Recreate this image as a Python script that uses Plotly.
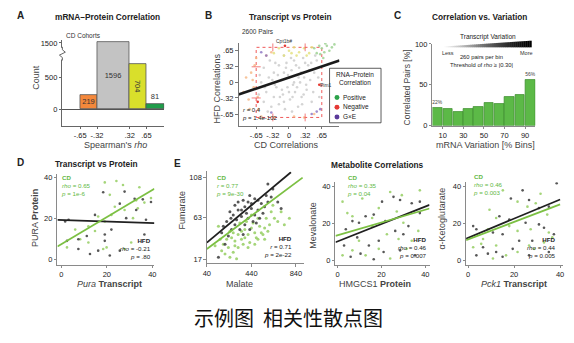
import plotly.graph_objects as go
import numpy as np

W, H = 574, 343
FONT = "Liberation Sans, Arial, Helvetica, sans-serif"
GREEN = "#7cc043"
GREEN_TXT = "#62b83f"
BLACK = "#222222"
AXC = "#8a8a8a"

# ---------------- Panel A : mRNA-Protein correlation counts ----------------
a_bin_lo = [-0.65, -0.32, 0.32, 0.65]
a_bin_hi = [-0.32, 0.32, 0.65, 1.00]
a_counts = [219, 1596, 704, 81]
a_colors = ["#f4883b", "#c3c3c3", "#d9df2b", "#1f9d4a"]
a_xticks = [-0.65, -0.32, 0.32, 0.65]
a_xticktext = ["-.65", "-.32", ".32", ".65"]
a_yticks = [0, 500, 1500]


def a_break(v):  # y-axis is broken between 500 and 1500
    return v if v < 943 else 796 + 0.156 * v


# ---------------- Panel B : CD vs HFD correlations ----------------
b_gray_x = [-0.5, -0.45, -0.4, -0.35, -0.3, -0.3, -0.25, -0.2, -0.2, -0.15, -0.12, -0.1, -0.08, -0.05, -0.03, 0, 0.02,
            0.05, 0.08, 0.1, 0.12, 0.15, 0.18, 0.2, 0.22, 0.25, 0.28, 0.3, 0.35, 0.38, 0.42, 0.45, 0.5, 0.55, -0.55,
            -0.6, -0.5, -0.42, -0.38, -0.28, -0.22, -0.18, -0.1, -0.06, 0.0, 0.04, 0.06, 0.1, 0.14, 0.16, 0.24, 0.26,
            0.32, 0.34, 0.4, 0.48, 0.52, 0.58, -0.48, -0.33, -0.27, -0.14, -0.02, 0.07, 0.19, 0.29, 0.44, -0.58, 0.6,
            -0.1]
b_gray_y = [-0.4, -0.2, 0.1, -0.5, -0.3, 0.2, -0.1, 0.35, -0.45, 0.05, -0.25, 0.2, -0.55, 0.4, -0.1, 0.1, -0.35,
            0.25, -0.05, 0.45, -0.2, 0.15, -0.5, 0.3, 0.0, -0.3, 0.5, 0.1, -0.15, 0.35, 0.05, -0.4, 0.2, 0.45, 0.0,
            -0.25, 0.3, -0.6, 0.45, -0.05, 0.15, -0.3, -0.4, 0.3, -0.2, 0.5, -0.6, 0.0, 0.35, -0.1, 0.2, -0.45,
            0.4, -0.05, 0.25, -0.2, 0.55, 0.1, -0.1, 0.05, 0.4, -0.15, 0.15, -0.3, 0.1, -0.25, 0.4, 0.15, -0.3,
            0.55]
b_neg_x = [-0.75, -0.7, -0.68, -0.62, -0.8, -0.72, -0.65, -0.85, -0.6, -0.55, -0.3, 0.1, 0.3, -0.45, -0.35, -0.9,
           -0.78, 0.5]
b_neg_y = [0.2, -0.1, 0.35, -0.3, -0.35, 0.05, 0.5, 0.1, -0.55, -0.7, -0.72, -0.7, -0.72, 0.55, 0.62, -0.2,
           -0.55, -0.65]
b_mid_x = [-0.3, -0.2, 0, 0.1, 0.2, 0.3, 0.4, -0.1, 0.15, 0.35, 0.45, 0.05]
b_mid_y = [0.6, 0.7, 0.65, 0.72, 0.62, 0.7, 0.6, 0.55, 0.55, 0.55, 0.72, 0.6]
b_pos_x = [0.55, 0.65, 0.7, 0.75, 0.8, 0.6, 0.85, 0.68, 0.72, 0.9, 0.5, 0.62]
b_pos_y = [0.6, 0.7, 0.62, 0.75, 0.65, 0.75, 0.72, 0.5, 0.8, 0.78, 0.7, 0.58]
b_gxe_x = [-0.55, -0.45, 0.45, 0.55, -0.35, 0.62]
b_gxe_y = [0.62, 0.55, -0.65, -0.6, -0.62, -0.55]
b_red_x = [-0.08, 0.6, -0.62]
b_red_y = [0.75, -0.05, -0.4]
b_fit = (0.10, 0.35)             # intercept, slope
b_thr = [0.32, 0.65]
b_ticks = [-0.65, -0.32, 0, 0.32, 0.65]
b_ticktext = ["-.65", "-.32", "0", ".32", ".65"]

# ---------------- Panel C : correlated pairs per variation bin ----------------
c_bins = [5, 15, 25, 35, 45, 55, 65, 75, 85, 95]
c_pct = [22, 21, 17, 20, 23, 28, 27, 35, 38, 56]
c_xticks = [10, 30, 50, 70, 90]
c_yticks = [0, 50, 100]

# ---------------- Panel D : Pura transcript vs PURA protein ----------------
d_cd_x = [19.1, 24.2, 27.1, 34.3, 21.3, 32.9, 36.5, 39.4, 27.8, 33.6, 16.2, 22.0, 19.1, 11.9, 6.1, 8.3, 11.9, 2.5,
          18.4, 19.9, 27.8, 30.7, 14.8, 23.5, 31.5]
d_cd_y = [37.5, 38.2, 36.2, 35.1, 31.4, 28.7, 27.6, 29.8, 24.0, 24.8, 20.8, 21.6, 18.4, 16.0, 14.4, 9.7, 8.1, 5.7,
          4.9, 5.7, 4.9, 8.1, 13.7, 25.6, 20.0]
d_hfd_x = [18.4, 27.8, 32.2, 35.8, 39.4, 25.7, 32.9, 14.8, 28.5, 37.2, 1.7, 3.2, 7.5, 11.2, 19.1, 22.0, 7.5, 12.6,
           16.2, 21.3, 25.7, 36.5, 2.5, 19.1]
d_hfd_y = [32.7, 33.0, 29.5, 29.2, 27.9, 27.1, 24.0, 21.6, 20.0, 19.2, 18.4, 19.2, 9.7, 11.3, 8.9, 14.4, 4.9, 2.5,
           4.1, 1.7, 4.1, 12.0, 8.9, 12.0]
d_fit_cd = (7.3, 0.661)
d_fit_hfd = (19.1, -0.037)

# ---------------- Panel E1 : Malate vs Fumarate ----------------
e1_hfd_x = [366, 410, 470, 529, 588, 381, 321, 440, 499, 277, 351, 410, 470, 544, 218, 292, 262, 173, 381, 588,
            633, 573, 144, 484, 321, 425, 707, 307, 247, 440, 514, 188, 351, 396, 455, 233, 558, 618, 292, 425,
            366, 677, 499, 256, 336, 203]
e1_hfd_y = [82.4, 80.6, 84.2, 78.8, 80.6, 75.2, 71.6, 73.4, 71.6, 66.2, 64.4, 62.6, 66.2, 68.0, 58.9, 55.3, 49.9,
            46.3, 55.3, 100.5, 95.0, 87.8, 19.2, 57.1, 80.6, 87.8, 73.4, 60.7, 69.8, 78.8, 62.6, 53.5, 71.6, 68.0,
            58.9, 42.7, 75.2, 86.0, 77.0, 49.9, 44.5, 80.6, 82.4, 62.6, 49.9, 33.7]
e1_cd_x = [707, 781, 647, 603, 559, 514, 470, 440, 410, 381, 351, 321, 292, 262, 233, 203, 173, 277, 321, 366, 425,
           499, 544, 588, 455, 396, 336, 247, 218, 188, 114, 159, 144, 499, 573, 677, 736, 410, 470, 307, 247, 618,
           440, 351, 529, 292, 381, 633, 277, 484, 559]
e1_cd_y = [69.8, 62.6, 62.6, 55.3, 51.7, 53.5, 46.3, 51.7, 44.5, 49.9, 39.1, 44.5, 37.3, 40.9, 30.1, 22.8, 26.4,
           24.6, 30.1, 33.7, 35.5, 39.1, 44.5, 48.1, 57.1, 58.9, 57.1, 48.1, 39.1, 33.7, 31.9, 39.1, 53.5, 62.6,
           62.6, 58.9, 55.3, 30.1, 33.7, 17.4, 19.2, 69.8, 66.2, 48.1, 46.3, 31.9, 40.9, 77.0, 46.3, 40.9, 39.1]
e1_fit_cd = (24.5, 0.0924)
e1_fit_hfd = (31.25, 0.1037)
e1_fit_cd_x = [40, 900]
e1_fit_hfd_x = [40, 795]

# ---------------- Panel E2 : HMGCS1 protein vs Mevalonate ----------------
e2_hfd_x = [20.3, 25.5, 28.5, 33.8, 37.5, 12.8, 16.5, 6.8, 9.8, 21.8, 32.3, 3.8, 26.3, 30.0, 9.0, 14.3, 10.5, 6.0,
            21.0, 28.5, 35.3, 3.0, 18.8, 16.5, 37.5]
e2_hfd_y = [31.6, 34.2, 32.5, 30.7, 31.6, 23.7, 24.6, 21.1, 20.2, 21.1, 18.4, 16.7, 15.8, 14.0, 12.3, 7.9, 3.5, 1.8,
            4.4, 5.3, 2.6, 7.9, 10.5, 0.5, 25.4]
e2_cd_x = [24.0, 29.3, 37.5, 11.3, 2.3, 18.8, 27.0, 4.5, 6.8, 15.8, 22.5, 33.8, 27.8, 9.8, 12.8, 6.8, 2.3, 24.0,
           31.5, 18.8, 36.8, 15.8, 30.0]
e2_cd_y = [36.8, 35.1, 37.7, 33.3, 31.6, 28.1, 26.3, 25.4, 23.7, 18.4, 14.0, 10.5, 11.4, 10.5, 2.6, 5.3, 2.6, 0.9,
           6.1, 6.1, 15.8, 22.8, 20.2]
e2_fit_cd = (13.4, 0.346)
e2_fit_hfd = (10.1, 0.472)

# ---------------- Panel E3 : Pck1 transcript vs alpha-Ketoglutarate ----------------
e3_hfd_x = [38.5, 23.7, 18.6, 26.5, 30.8, 35.1, 13.6, 17.9, 25.0, 30.8, 2.2, 3.6, 10.8, 15.0, 22.2, 37.3, 6.5, 12.2,
            19.4, 27.9, 3.6, 15.0, 26.5, 35.1, 8.6, 33.0]
e3_hfd_y = [41.5, 37.7, 33.3, 32.5, 28.1, 28.9, 23.7, 21.9, 20.2, 19.3, 18.4, 16.7, 14.9, 14.0, 10.5, 14.0, 7.0, 4.4,
            6.1, 10.5, 2.6, 1.8, 2.6, 4.4, 3.5, 17.5]
e3_cd_x = [15.1, 31.5, 21.5, 29.4, 25.8, 34.4, 9.3, 12.2, 8.6, 17.9, 21.5, 27.2, 35.1, 2.2, 5.7, 12.2, 16.5, 21.5,
           26.5, 28.7, 33.0, 36.6, 10.8, 6.5]
e3_cd_y = [37.7, 35.9, 31.6, 30.7, 28.9, 24.6, 27.2, 22.8, 16.7, 18.4, 15.8, 16.7, 14.9, 7.0, 8.8, 7.9, 2.6, 4.4,
           7.9, 6.1, 9.6, 12.3, 0.9, 11.4]
e3_fit_cd = (11.2, 0.473)
e3_fit_hfd = (12.1, 0.517)

# ============================================================================


def X(p):
    return p / W


def Y(p):
    return 1 - p / H


def fit_line(coef, xr):
    xs = np.array(xr, dtype=float)
    return xs, coef[0] + coef[1] * xs


fig = go.Figure()

# ---- A bars
a_lo = np.array(a_bin_lo)
a_hi = np.array(a_bin_hi)
fig.add_trace(go.Bar(
    x=(a_lo + a_hi) / 2, width=a_hi - a_lo, y=[a_break(v) for v in a_counts],
    marker=dict(color=a_colors, line=dict(color="#555555", width=0.8)),
    text=[str(v) for v in a_counts], textposition=["inside", "inside", "inside", "outside"],
    insidetextanchor="middle", textfont=dict(family=FONT, size=7.5, color="#333333"),
    constraintext="none", cliponaxis=False, xaxis="x", yaxis="y", hoverinfo="skip"))

# ---- B scatter
for xs, ys, col, op in [(b_gray_x, b_gray_y, "#c9c9c9", 0.8), (b_neg_x, b_neg_y, "#f5b582", 0.8),
                        (b_mid_x, b_mid_y, "#e2e07a", 0.8), (b_pos_x, b_pos_y, "#9fd294", 0.85),
                        (b_gxe_x, b_gxe_y, "#8a72c0", 0.8), (b_red_x, b_red_y, "#e53935", 1.0)]:
    fig.add_trace(go.Scatter(x=xs, y=ys, mode="markers", marker=dict(size=2.6, color=col, opacity=op),
                             xaxis="x2", yaxis="y2", hoverinfo="skip"))
bx, by = fit_line(b_fit, [-1.0, 1.0])
fig.add_trace(go.Scatter(x=bx, y=by, mode="lines", line=dict(color="#1a1a1a", width=2.6),
                         xaxis="x2", yaxis="y2", hoverinfo="skip"))

# ---- C bars
fig.add_trace(go.Bar(
    x=c_bins, y=c_pct, width=9.4,
    marker=dict(color="#5cb947", line=dict(color="#3b8a2c", width=0.7)),
    text=[f"{v}%" if i in (0, len(c_pct) - 1) else "" for i, v in enumerate(c_pct)],
    textposition="outside", textfont=dict(family=FONT, size=5.5, color="#444444"),
    cliponaxis=False, xaxis="x3", yaxis="y3", hoverinfo="skip"))


def scatter_panel(xa, ya, cdx, cdy, hfx, hfy, fcd, fhfd, xr_cd, xr_hfd, size=3.0):
    fig.add_trace(go.Scatter(x=cdx, y=cdy, mode="markers", marker=dict(size=size, color="#9bd06a", opacity=0.9),
                             xaxis=xa, yaxis=ya, hoverinfo="skip"))
    fig.add_trace(go.Scatter(x=hfx, y=hfy, mode="markers", marker=dict(size=size, color="#3a3a3a", opacity=0.85),
                             xaxis=xa, yaxis=ya, hoverinfo="skip"))
    lx, ly = fit_line(fhfd, xr_hfd)
    fig.add_trace(go.Scatter(x=lx, y=ly, mode="lines", line=dict(color="#202020", width=1.8),
                             xaxis=xa, yaxis=ya, hoverinfo="skip"))
    lx, ly = fit_line(fcd, xr_cd)
    fig.add_trace(go.Scatter(x=lx, y=ly, mode="lines", line=dict(color=GREEN, width=1.8),
                             xaxis=xa, yaxis=ya, hoverinfo="skip"))


scatter_panel("x4", "y4", d_cd_x, d_cd_y, d_hfd_x, d_hfd_y, d_fit_cd, d_fit_hfd, [-1.7, 40.9], [-1.7, 40.9], 2.6)
scatter_panel("x5", "y5", e1_cd_x, e1_cd_y, e1_hfd_x, e1_hfd_y, e1_fit_cd, e1_fit_hfd, e1_fit_cd_x, e1_fit_hfd_x, 3.0)
scatter_panel("x6", "y6", e2_cd_x, e2_cd_y, e2_hfd_x, e2_hfd_y, e2_fit_cd, e2_fit_hfd, [-0.9, 41.9], [-0.9, 41.9], 2.6)
scatter_panel("x7", "y7", e3_cd_x, e3_cd_y, e3_hfd_x, e3_hfd_y, e3_fit_cd, e3_fit_hfd, [-0.86, 40.0], [-0.86, 40.0], 2.6)


def ax(dom, rng, tv=None, tt=None, anchor=None, vertical=False, lc=AXC):
    d = dict(domain=dom, range=rng, showgrid=False, zeroline=False, showline=True, linecolor=lc, linewidth=1,
             ticks="outside", ticklen=2.5, tickwidth=1, tickcolor=lc, fixedrange=True,
             tickfont=dict(family=FONT, size=7.5, color="#222222"), anchor=anchor)
    if tv is not None:
        d["tickmode"] = "array"
        d["tickvals"] = tv
        d["ticktext"] = tt if tt is not None else [str(v) for v in tv]
    return d


layout = dict(
    width=W, height=H, margin=dict(l=0, r=0, t=0, b=0), paper_bgcolor="white", plot_bgcolor="rgba(0,0,0,0)",
    showlegend=False, bargap=0, font=dict(family=FONT, color=BLACK),
)
# A
layout["xaxis"] = ax([X(59), X(162)], [-1.0, 1.0], a_xticks, a_xticktext, "y", lc="#666666")
layout["yaxis"] = ax([Y(125), Y(37)], [-258, 1076], [a_break(v) for v in a_yticks], [str(v) for v in a_yticks],
                     "x", True, lc="#666666")
layout["yaxis"].update(zeroline=True, zerolinecolor="#555555", zerolinewidth=1)
# B
layout["xaxis2"] = ax([X(237), X(339)], [-1.0, 1.0], b_ticks, b_ticktext, "y2", lc="#777777")
layout["yaxis2"] = ax([Y(125), Y(40)], [-0.89, 0.81], b_ticks, b_ticktext, "x2", True, lc="#777777")
# C
layout["xaxis3"] = ax([X(433), X(537)], [0, 100], c_xticks, None, "y3")
layout["yaxis3"] = ax([Y(125), Y(41)], [0, 100], c_yticks, None, "x3", True)
# D
layout["xaxis4"] = ax([X(54), X(152)], [-1.7, 40.9], [0, 20, 40], None, "y4")
layout["yaxis4"] = ax([Y(268), Y(175)], [-2.9, 41.4], [0, 20, 40], None, "x4", True)
# E1
layout["xaxis5"] = ax([X(205), X(303)], [40, 911], [40, 440, 840], None, "y5")
layout["yaxis5"] = ax([Y(266), Y(172)], [12.7, 114.5], [17, 63, 108], None, "x5", True)
# E2
layout["xaxis6"] = ax([X(335), X(430)], [-0.9, 41.9], [0, 20, 40], None, "y6")
layout["yaxis6"] = ax([Y(268), Y(183)], [-2.6, 42.1], [0, 20, 40], None, "x6", True)
# E3
layout["xaxis7"] = ax([X(467), X(565)], [-0.86, 41.3], [0, 20, 40], None, "y7")
layout["yaxis7"] = ax([Y(268), Y(183)], [-2.6, 42.1], [0, 20, 40], None, "x7", True)

fig.update_layout(**layout)

# ------------------------------------------------------------------ annotations
anns = []


def ann(text, x, y, size=7.0, color=BLACK, xa="center", ya="middle", angle=0, align=None):
    d = dict(text=text, x=X(x), y=Y(y), xref="paper", yref="paper", showarrow=False, borderpad=0,
             font=dict(family=FONT, size=size, color=color), xanchor=xa, yanchor=ya, textangle=angle)
    if align:
        d["align"] = align
    anns.append(d)


# panel letters and titles
for letter, x, y in [("A", 17, 12), ("B", 207, 12), ("C", 398, 12), ("D", 17, 163), ("E", 175, 164)]:
    ann(f"<b>{letter}</b>", x, y, 10)
ann("<b>mRNA–Protein Correlation</b>", 105, 13, 8.3)
ann("<b>Transcript vs Protein</b>", 290, 13, 8.3)
ann("<b>Correlation vs. Variation</b>", 481, 13, 8.3)
ann("<b>Transcript vs Protein</b>", 93, 164, 8.3)
ann("<b>Metabolite Correlations</b>", 377, 165, 8.3)

AT = "#444444"
XT = 288  # y of the lower x-axis titles
# axis titles
ann("Count", 32, 75, 9, AT, angle=-90)
ann("Spearman's <i>rho</i>", 113, 145, 9, AT)
ann("CD Cohorts", 62, 32, 6.5, "#333333", xa="left")
ann("HFD Correlations", 215, 87, 9, AT, angle=-90)
ann("CD Correlations", 285, 145, 9, AT)
ann("2600 Pairs", 239, 28, 6.5, "#333333", xa="left")
ann("Correlated Pairs [%]", 407, 86, 8.5, AT, angle=-90)
ann("mRNA Variation [% Bins]", 487, 145, 9, AT)
ann("PURA <b>Protein</b>", 32, 220, 9, AT, angle=-90)
ann("<i>Pura</i> <b>Transcript</b>", 107, XT, 9, AT)
ann("Fumarate", 180, 212, 9, AT, angle=-90)
ann("Malate", 238, XT, 9, AT)
ann("Mevalonate", 312, 227, 9, AT, angle=-90)
ann("HMGCS1 <b>Protein</b>", 375, XT, 9, AT)
ann("α-Ketoglutarate", 443, 220, 9, AT, angle=-90)
ann("<i>Pck1</i> <b>Transcript</b>", 515, XT, 9, AT)

# panel B stats / labels / legend
ann("<i>r</i> = 0.4<br><i>p</i> = 1.4e-102", 240, 113, 6.0, "#222222", xa="left", align="left")
ann("Cpt1b#", 283, 38, 5, "#333333")
ann("Pim1", 318, 83, 5, "#333333", xa="left")
ann("RNA–Protein<br>Correlation", 355, 76, 6.5, "#222222")
for lbl, yy in [("Positive", 96), ("Negative", 106), ("G×E", 116)]:
    ann(lbl, 342, yy, 6.5, "#222222", xa="left")

# panel C texts
ann("Transcript Variation", 489, 34, 6.5, "#222222")
ann("Less", 449, 50, 5.5, "#333333")
ann("More", 528, 50, 5.5, "#333333")
ann("260 pairs per bin<br>Threshold of <i>rho</i> ≥ |0.30|", 483, 58.5, 5.8, "#222222")

# scatter stats (blocks of three lines)
SZ = 6.2


def cd_block(x, y, stat):
    ann(f"<b>CD</b><br>{stat}", x, y, SZ, GREEN_TXT, xa="left", align="left")


def hfd_block(x, y, stat):
    ann(f"<b>HFD</b><br>{stat}", x, y, SZ, BLACK, xa="right", align="right")


cd_block(57, 186, "<i>rho</i> = 0.65<br><i>p</i> = 1e-6")
hfd_block(150, 251, "<i>rho</i> = -0.21<br><i>p</i> = .80")
cd_block(213, 186, "<i>r</i> = 0.77<br><i>p</i> = 9e-30")
hfd_block(292, 249, "<i>r</i> = 0.71<br><i>p</i> = 2e-22")
cd_block(346, 186, "<i>rho</i> = 0.35<br><i>p</i> = 0.04")
hfd_block(428, 250, "<i>rho</i> = 0.46<br><i>p</i> = 0.007")
cd_block(473, 185, "<i>rho</i> = 0.46<br><i>p</i> = 0.003")
hfd_block(559, 250, "<i>rho</i> = 0.44<br><i>p</i> = 0.005")

# caption
ann("示例图\u00a0\u00a0相关性散点图", 287, 322, 20, "#111111")
anns[-1]["font"]["family"] = "Noto Sans CJK SC, sans-serif"

fig.update_layout(annotations=anns)

# ------------------------------------------------------------------ shapes
shapes = []
# axis break squiggle (panel A)
shapes.append(dict(type="rect", xref="paper", yref="paper", x0=X(56), x1=X(62), y0=Y(57), y1=Y(45),
                   fillcolor="white", line=dict(width=0), layer="above"))
pts = [(59, 44), (59, 47), (62, 49.5), (56, 52.5), (59, 55), (59, 58)]
path = "M " + " L ".join(f"{X(a):.5f},{Y(b):.5f}" for a, b in pts)
shapes.append(dict(type="path", path=path, xref="paper", yref="paper", line=dict(color="#666666", width=1),
                   layer="above"))

# panel B threshold box (dotted red)
t_in, t_out = b_thr
shapes.append(dict(type="rect", xref="x2", yref="y2", x0=-t_out, x1=t_out, y0=-0.72, y1=0.72,
                   line=dict(color="#f05a5a", width=1, dash="dot"), layer="below"))
for s in (-1, 1):
    shapes.append(dict(type="line", xref="x2", yref="y2", x0=s * t_in, x1=s * t_in, y0=0.64, y1=0.8,
                       line=dict(color="#f05a5a", width=0.8)))
    shapes.append(dict(type="line", xref="x2", yref="y2", x0=s * t_in, x1=s * t_in, y0=-0.8, y1=-0.64,
                       line=dict(color="#f05a5a", width=0.8)))
    shapes.append(dict(type="line", xref="x2", yref="y2", x0=-0.74, x1=-0.56, y0=s * t_in, y1=s * t_in,
                       line=dict(color="#f05a5a", width=0.8)))

# panel B legend box
shapes.append(dict(type="rect", xref="paper", yref="paper", x0=X(329), x1=X(381), y0=Y(122), y1=Y(66),
                   fillcolor="white", line=dict(color="#333333", width=0.8), layer="above"))
for col, yy in [("#2ca24a", 96), ("#e53935", 106), ("#5b3a9a", 116)]:
    shapes.append(dict(type="circle", xref="paper", yref="paper", x0=X(334), x1=X(339), y0=Y(yy + 2.5),
                       y1=Y(yy - 2.5), fillcolor=col, line=dict(width=0), layer="above"))

# panel C gradient wedge
N = 44
gx0, gx1 = 445, 533
for i in range(N):
    a = gx0 + (gx1 - gx0) * i / N
    b = gx0 + (gx1 - gx0) * (i + 1) / N
    h = 0.8 + 6.0 * (i + 1) / N
    g = int(255 * (1 - (i + 1) / N) ** 1.3)
    shapes.append(dict(type="rect", xref="paper", yref="paper", x0=X(a), x1=X(b + 0.3), y0=Y(44.5),
                       y1=Y(44.5 - h), fillcolor=f"rgb({g},{g},{g})", line=dict(width=0), layer="above"))

fig.update_layout(shapes=shapes)
fig.write_html("out.html")
